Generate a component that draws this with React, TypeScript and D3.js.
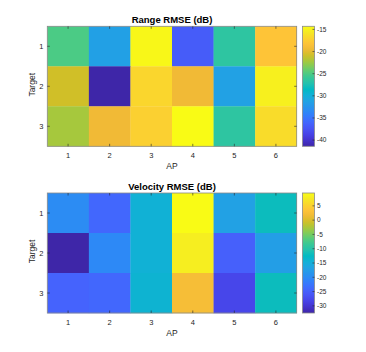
import { useRef, useEffect } from "react";
import * as d3 from "d3";

// AP columns and target rows
const apLabels = ["1", "2", "3", "4", "5", "6"];
const targetLabels = ["1", "2", "3"];

// values (dB), one row per target
const rangeRmse = [
  [-25.1, -31.5, -14.6, -36.8, -26.5, -18.1],
  [-20.8, -41.4, -16.9, -19.4, -31.4, -15.1],
  [-22.2, -19.4, -17.3, -14.3, -26.5, -16.5],
];
const velocityRmse = [
  [-19.9, -24.1, -14.4, 9.5, -17.0, -11.9],
  [-32.5, -20.3, -14.4, 8.0, -24.9, -17.4],
  [-24.5, -24.1, -14.0, 2.4, -27.9, -11.9],
];

const rangeTicks = [-40, -35, -30, -25, -20, -15];
const velocityTicks = [-30, -25, -20, -15, -10, -5, 0, 5];

// parula colormap, sampled
const parula = [
  "#3e26a8", "#4432cb", "#4741e5", "#4852f4", "#4563fd", "#3875fe",
  "#2e87f7", "#2796eb", "#20a5e2", "#12b1d6", "#02bac3", "#24c1ae",
  "#37c897", "#57cc7a", "#81cc59", "#abc739", "#d1bf27", "#f0ba36",
  "#fec338", "#fad62d", "#f5e924", "#f9fb15",
];
const parulaInterp = d3.piecewise(d3.interpolateRgb, parula);

const FONT = "'Liberation Sans', Arial, Helvetica, sans-serif";
const AXIS = "#262626";

type PanelProps = {
  id: string;
  title: string;
  values: number[][];
  ticks: number[];
  top: number;
};

function Heatmap({ id, title, values, ticks, top }: PanelProps) {
  const gRef = useRef<SVGGElement | null>(null);

  useEffect(() => {
    if (!gRef.current) return;
    const g = d3.select(gRef.current);
    g.selectAll("*").remove();

    const left = 47.3, right = 296.7, h = 120;
    const bottom = top + h;
    const cbLeft = 302.5, cbRight = 314.5;

    const flat = values.flat();
    const lo = d3.min(flat) as number;
    const hi = d3.max(flat) as number;
    const t = d3.scaleLinear().domain([lo, hi]).range([0, 1]).clamp(true);

    const x = d3.scaleBand().domain(apLabels).range([left, right]);
    const y = d3.scaleBand().domain(targetLabels).range([top, bottom]);

    // cells
    const cells = values.flatMap((row, r) =>
      row.map((v, c) => ({ v, ap: apLabels[c], tg: targetLabels[r] }))
    );
    g.append("g")
      .selectAll("rect")
      .data(cells)
      .join("rect")
      .attr("x", (d) => x(d.ap)!)
      .attr("y", (d) => y(d.tg)!)
      .attr("width", x.bandwidth() + 0.3)
      .attr("height", y.bandwidth() + 0.3)
      .attr("fill", (d) => parulaInterp(t(d.v)));

    // box
    g.append("rect")
      .attr("x", left).attr("y", top)
      .attr("width", right - left).attr("height", h)
      .attr("fill", "none").attr("stroke", "#8a8a8a").attr("stroke-width", 0.8);

    // ticks inside, all four sides
    const tl = 2.5;
    const tickG = g.append("g").attr("stroke", AXIS).attr("stroke-width", 0.6);
    apLabels.forEach((a) => {
      const cx = x(a)! + x.bandwidth() / 2;
      tickG.append("line").attr("x1", cx).attr("x2", cx).attr("y1", bottom).attr("y2", bottom - tl);
      tickG.append("line").attr("x1", cx).attr("x2", cx).attr("y1", top).attr("y2", top + tl);
    });
    targetLabels.forEach((tg) => {
      const cy = y(tg)! + y.bandwidth() / 2;
      tickG.append("line").attr("x1", left).attr("x2", left + tl).attr("y1", cy).attr("y2", cy);
      tickG.append("line").attr("x1", right).attr("x2", right - tl).attr("y1", cy).attr("y2", cy);
    });

    // tick labels
    g.append("g")
      .selectAll("text")
      .data(apLabels)
      .join("text")
      .attr("x", (d) => x(d)! + x.bandwidth() / 2)
      .attr("y", bottom + 11.5)
      .attr("text-anchor", "middle")
      .attr("font-size", 7.5)
      .attr("fill", AXIS)
      .text((d) => d);
    g.append("g")
      .selectAll("text")
      .data(targetLabels)
      .join("text")
      .attr("x", left - 4)
      .attr("y", (d) => y(d)! + y.bandwidth() / 2 + 2.7)
      .attr("text-anchor", "end")
      .attr("font-size", 7.5)
      .attr("fill", AXIS)
      .text((d) => d);

    // axis labels
    g.append("text")
      .attr("x", (left + right) / 2)
      .attr("y", bottom + 23)
      .attr("text-anchor", "middle")
      .attr("font-size", 8.5)
      .attr("fill", AXIS)
      .text("AP");
    g.append("text")
      .attr("transform", `translate(${left - 12.7},${top + h / 2 - 1.5}) rotate(-90)`)
      .attr("text-anchor", "middle")
      .attr("font-size", 8.5)
      .attr("fill", AXIS)
      .text("Target");

    // title
    g.append("text")
      .attr("x", (left + right) / 2)
      .attr("y", top - 3.5)
      .attr("text-anchor", "middle")
      .attr("font-size", 9.5)
      .attr("font-weight", "bold")
      .attr("fill", "#000")
      .text(title);

    // colorbar
    const grad = g.append("defs").append("linearGradient")
      .attr("id", id)
      .attr("x1", 0).attr("x2", 0).attr("y1", 1).attr("y2", 0);
    d3.range(0, 1.0001, 1 / 40).forEach((s) => {
      grad.append("stop").attr("offset", s).attr("stop-color", parulaInterp(s));
    });
    g.append("rect")
      .attr("x", cbLeft).attr("y", top)
      .attr("width", cbRight - cbLeft).attr("height", h)
      .attr("fill", `url(#${id})`)
      .attr("stroke", "#8a8a8a").attr("stroke-width", 0.8);

    const cy = d3.scaleLinear().domain([lo, hi]).range([bottom, top]);
    const cbG = g.append("g");
    ticks.forEach((v) => {
      cbG.append("line")
        .attr("x1", cbRight).attr("x2", cbRight - 2)
        .attr("y1", cy(v)).attr("y2", cy(v))
        .attr("stroke", AXIS).attr("stroke-width", 0.6);
      cbG.append("text")
        .attr("x", cbRight + 2.5)
        .attr("y", cy(v) + 2.3)
        .attr("font-size", 6.5)
        .attr("fill", AXIS)
        .text(v < 0 ? `-${Math.abs(v)}` : `${v}`);
    });
  }, [id, title, values, ticks, top]);

  return <g ref={gRef} />;
}

export default function App() {
  return (
    <svg
      width={366}
      height={352}
      style={{ position: "absolute", left: 0, top: 0, background: "#fff", fontFamily: FONT }}
    >
      <rect width={366} height={352} fill="#fff" />
      <Heatmap id="cb-range" title="Range RMSE (dB)" values={rangeRmse} ticks={rangeTicks} top={26.3} />
      <Heatmap id="cb-vel" title="Velocity RMSE (dB)" values={velocityRmse} ticks={velocityTicks} top={193} />
    </svg>
  );
}
